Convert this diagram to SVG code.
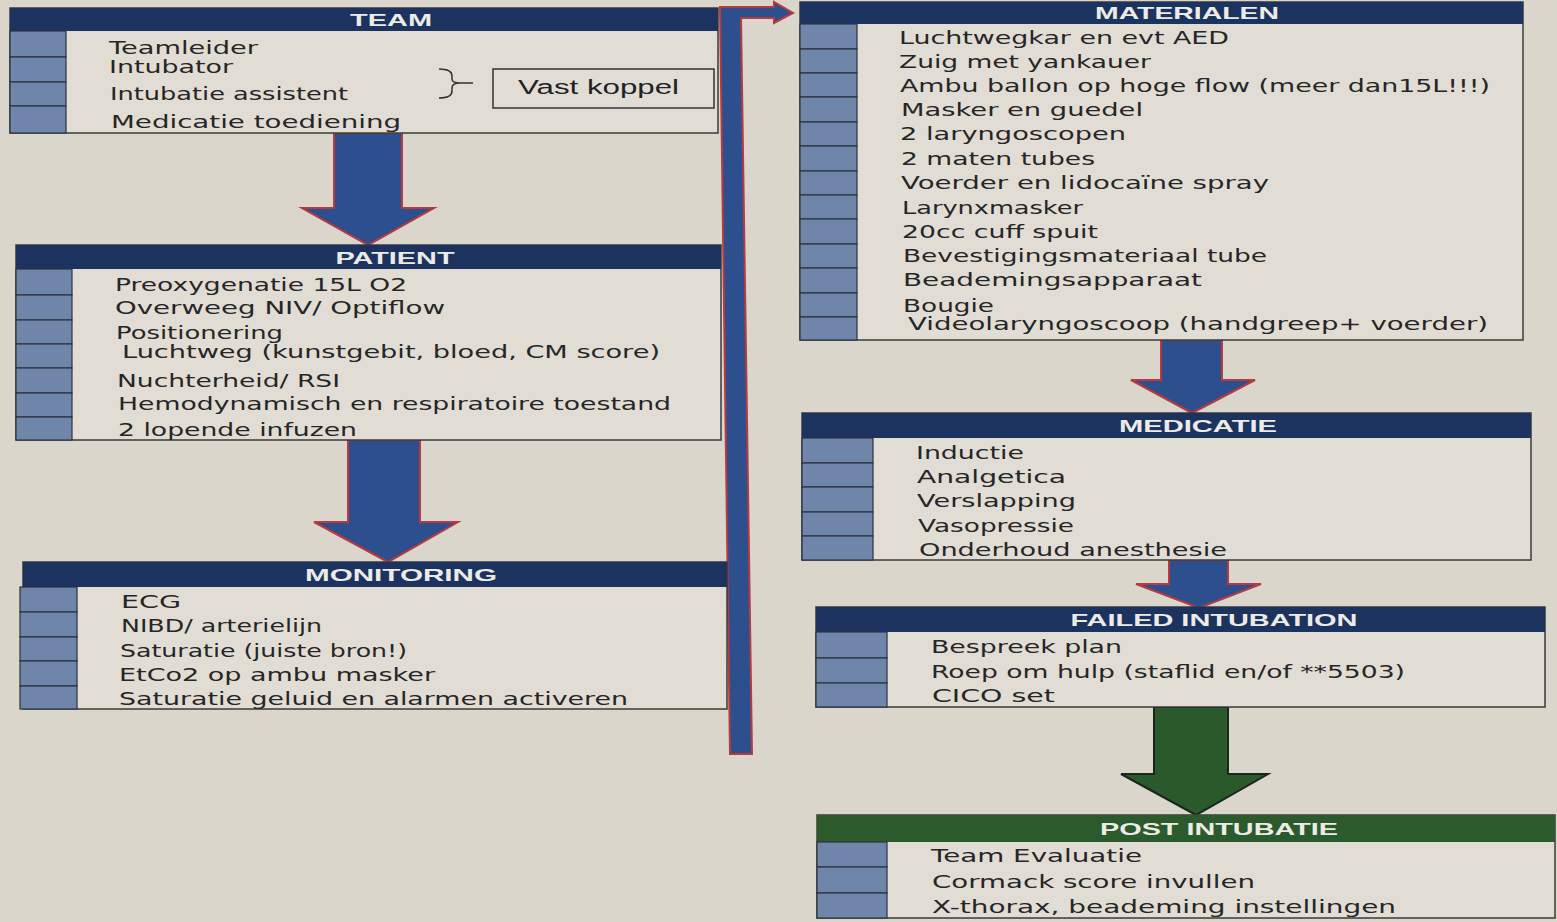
<svg xmlns="http://www.w3.org/2000/svg" width="1557" height="922" viewBox="0 0 1557 922">
<style>
.bg{fill:#dad6cb}
.hdr{fill:#1c335f}
.hdrg{fill:#2b5a2d}
.body{fill:#e1ddd4;stroke:#3a3a3a;stroke-width:1.5}
.cell{fill:#6f85a9;stroke:#2c3340;stroke-width:1.2}
.t{font-family:"DejaVu Sans",sans-serif;font-size:18px;fill:#262626}
.h{font-family:"Liberation Sans",sans-serif;font-weight:bold;font-size:17px;fill:#ecebe6;text-anchor:middle}
.arr{fill:#2d4f8e;stroke:#b63a3f;stroke-width:2;stroke-linejoin:miter}
.arrg{fill:#2a5a2b;stroke:#1c261c;stroke-width:2}
.thin{fill:none;stroke:#333;stroke-width:1.5}
.vk{font-family:"Liberation Sans",sans-serif;font-size:20px;fill:#222}
</style>
<rect class="bg" x="0" y="0" width="1557" height="922"/>

<g id="connectors">
  <polygon class="arr" points="334,133 402,133 402,208 434,208 368,245 302,208 334,208"/>
  <polygon class="arr" points="348,440 420,440 420,522 458,522 388,562 314,522 348,522"/>
  <polygon class="arr" points="1161,340 1222,340 1222,380 1255,380 1192,413 1131,380 1161,380"/>
  <polygon class="arr" points="1169,560 1228,560 1228,584 1261,584 1199,608 1136,584 1169,584"/>
  <polygon class="arrg" points="1154,707 1228,707 1228,774 1268,774 1196,815 1121,774 1154,774"/>
  <polygon class="arr" points="730,754 720,7 774,7 774,2 793,13 774,23 774,18 741,18 752,754"/>
</g>

<g id="node-team">
  <rect class="body" x="10" y="8" width="708" height="125"/>
  <rect class="hdr" x="10" y="8" width="708" height="23"/>
  <rect class="cell" x="10" y="31" width="56" height="26"/>
  <rect class="cell" x="10" y="57" width="56" height="25"/>
  <rect class="cell" x="10" y="82" width="56" height="24"/>
  <rect class="cell" x="10" y="106" width="56" height="27"/>
  <text class="h" x="391" y="26" textLength="82" lengthAdjust="spacingAndGlyphs">TEAM</text>
  <text class="t" x="109" y="54" textLength="149" lengthAdjust="spacingAndGlyphs">Teamleider</text>
  <text class="t" x="109" y="73" textLength="124" lengthAdjust="spacingAndGlyphs">Intubator</text>
  <text class="t" x="110" y="100" textLength="238" lengthAdjust="spacingAndGlyphs">Intubatie assistent</text>
  <text class="t" x="111" y="128" textLength="290" lengthAdjust="spacingAndGlyphs">Medicatie toediening</text>
  <path class="thin" d="M439,69 Q452,69 452,76 L452,79 Q452,83 460,83 L473,83 M460,83 Q452,83 452,88 L452,91 Q452,98 439,98"/>
  <rect class="thin" x="493" y="69" width="221" height="39"/>
  <text class="vk" x="518" y="94" textLength="161" lengthAdjust="spacingAndGlyphs">Vast koppel</text>
</g>

<g id="node-patient">
  <rect class="body" x="16" y="245" width="705" height="195"/>
  <rect class="hdr" x="16" y="245" width="705" height="24"/>
  <rect class="cell" x="16" y="269" width="56" height="26"/>
  <rect class="cell" x="16" y="295" width="56" height="25"/>
  <rect class="cell" x="16" y="320" width="56" height="24"/>
  <rect class="cell" x="16" y="344" width="56" height="24"/>
  <rect class="cell" x="16" y="368" width="56" height="25"/>
  <rect class="cell" x="16" y="393" width="56" height="24"/>
  <rect class="cell" x="16" y="417" width="56" height="23"/>
  <text class="h" x="395" y="264" textLength="119" lengthAdjust="spacingAndGlyphs">PATIENT</text>
  <text class="t" x="115" y="291" textLength="292" lengthAdjust="spacingAndGlyphs">Preoxygenatie 15L O2</text>
  <text class="t" x="115" y="314" textLength="330" lengthAdjust="spacingAndGlyphs">Overweeg NIV/ Optiflow</text>
  <text class="t" x="116" y="339" textLength="167" lengthAdjust="spacingAndGlyphs">Positionering</text>
  <text class="t" x="122" y="358" textLength="538" lengthAdjust="spacingAndGlyphs">Luchtweg (kunstgebit, bloed, CM score)</text>
  <text class="t" x="117" y="387" textLength="223" lengthAdjust="spacingAndGlyphs">Nuchterheid/ RSI</text>
  <text class="t" x="118" y="410" textLength="553" lengthAdjust="spacingAndGlyphs">Hemodynamisch en respiratoire toestand</text>
  <text class="t" x="118" y="436" textLength="239" lengthAdjust="spacingAndGlyphs">2 lopende infuzen</text>
</g>

<g id="node-monitoring">
  <rect class="body" x="23" y="562" width="704" height="147"/>
  <rect class="hdr" x="23" y="562" width="704" height="25"/>
  <rect class="cell" x="20" y="587" width="57" height="25"/>
  <rect class="cell" x="20" y="612" width="57" height="25"/>
  <rect class="cell" x="20" y="637" width="57" height="24"/>
  <rect class="cell" x="20" y="661" width="57" height="25"/>
  <rect class="cell" x="20" y="686" width="57" height="23"/>
  <text class="h" x="401" y="581" textLength="192" lengthAdjust="spacingAndGlyphs">MONITORING</text>
  <text class="t" x="121" y="608" textLength="60" lengthAdjust="spacingAndGlyphs">ECG</text>
  <text class="t" x="121" y="632" textLength="201" lengthAdjust="spacingAndGlyphs">NIBD/ arterielijn</text>
  <text class="t" x="120" y="657" textLength="287" lengthAdjust="spacingAndGlyphs">Saturatie (juiste bron!)</text>
  <text class="t" x="119" y="681" textLength="316" lengthAdjust="spacingAndGlyphs">EtCo2 op ambu masker</text>
  <text class="t" x="119" y="705" textLength="509" lengthAdjust="spacingAndGlyphs">Saturatie geluid en alarmen activeren</text>
</g>

<g id="node-materialen">
  <rect class="body" x="800" y="2" width="723" height="338"/>
  <rect class="hdr" x="800" y="2" width="723" height="22"/>
  <rect class="cell" x="800" y="24" width="57" height="25"/>
  <rect class="cell" x="800" y="49" width="57" height="24"/>
  <rect class="cell" x="800" y="73" width="57" height="24"/>
  <rect class="cell" x="800" y="97" width="57" height="25"/>
  <rect class="cell" x="800" y="122" width="57" height="24"/>
  <rect class="cell" x="800" y="146" width="57" height="25"/>
  <rect class="cell" x="800" y="171" width="57" height="24"/>
  <rect class="cell" x="800" y="195" width="57" height="24"/>
  <rect class="cell" x="800" y="219" width="57" height="25"/>
  <rect class="cell" x="800" y="244" width="57" height="24"/>
  <rect class="cell" x="800" y="268" width="57" height="25"/>
  <rect class="cell" x="800" y="293" width="57" height="24"/>
  <rect class="cell" x="800" y="317" width="57" height="23"/>
  <text class="h" x="1187" y="19" textLength="184" lengthAdjust="spacingAndGlyphs">MATERIALEN</text>
  <text class="t" x="899" y="44" textLength="330" lengthAdjust="spacingAndGlyphs">Luchtwegkar en evt AED</text>
  <text class="t" x="899" y="68" textLength="252" lengthAdjust="spacingAndGlyphs">Zuig met yankauer</text>
  <text class="t" x="900" y="92" textLength="590" lengthAdjust="spacingAndGlyphs">Ambu ballon op hoge flow (meer dan15L!!!)</text>
  <text class="t" x="901" y="116" textLength="242" lengthAdjust="spacingAndGlyphs">Masker en guedel</text>
  <text class="t" x="900" y="140" textLength="226" lengthAdjust="spacingAndGlyphs">2 laryngoscopen</text>
  <text class="t" x="901" y="165" textLength="194" lengthAdjust="spacingAndGlyphs">2 maten tubes</text>
  <text class="t" x="901" y="189" textLength="368" lengthAdjust="spacingAndGlyphs">Voerder en lidocaïne spray</text>
  <text class="t" x="902" y="214" textLength="181" lengthAdjust="spacingAndGlyphs">Larynxmasker</text>
  <text class="t" x="902" y="238" textLength="196" lengthAdjust="spacingAndGlyphs">20cc cuff spuit</text>
  <text class="t" x="903" y="262" textLength="364" lengthAdjust="spacingAndGlyphs">Bevestigingsmateriaal tube</text>
  <text class="t" x="903" y="286" textLength="299" lengthAdjust="spacingAndGlyphs">Beademingsapparaat</text>
  <text class="t" x="903" y="312" textLength="91" lengthAdjust="spacingAndGlyphs">Bougie</text>
  <text class="t" x="908" y="330" textLength="580" lengthAdjust="spacingAndGlyphs">Videolaryngoscoop (handgreep+ voerder)</text>
</g>

<g id="node-medicatie">
  <rect class="body" x="802" y="413" width="729" height="147"/>
  <rect class="hdr" x="802" y="413" width="729" height="25"/>
  <rect class="cell" x="802" y="438" width="71" height="25"/>
  <rect class="cell" x="802" y="463" width="71" height="24"/>
  <rect class="cell" x="802" y="487" width="71" height="25"/>
  <rect class="cell" x="802" y="512" width="71" height="24"/>
  <rect class="cell" x="802" y="536" width="71" height="24"/>
  <text class="h" x="1198" y="432" textLength="158" lengthAdjust="spacingAndGlyphs">MEDICATIE</text>
  <text class="t" x="916" y="459" textLength="108" lengthAdjust="spacingAndGlyphs">Inductie</text>
  <text class="t" x="917" y="483" textLength="149" lengthAdjust="spacingAndGlyphs">Analgetica</text>
  <text class="t" x="917" y="507" textLength="159" lengthAdjust="spacingAndGlyphs">Verslapping</text>
  <text class="t" x="918" y="532" textLength="156" lengthAdjust="spacingAndGlyphs">Vasopressie</text>
  <text class="t" x="919" y="556" textLength="308" lengthAdjust="spacingAndGlyphs">Onderhoud anesthesie</text>
</g>

<g id="node-failed">
  <rect class="body" x="816" y="607" width="729" height="100"/>
  <rect class="hdr" x="816" y="607" width="729" height="25"/>
  <rect class="cell" x="816" y="632" width="71" height="26"/>
  <rect class="cell" x="816" y="658" width="71" height="25"/>
  <rect class="cell" x="816" y="683" width="71" height="24"/>
  <text class="h" x="1214" y="626" textLength="287" lengthAdjust="spacingAndGlyphs">FAILED INTUBATION</text>
  <text class="t" x="931" y="653" textLength="191" lengthAdjust="spacingAndGlyphs">Bespreek plan</text>
  <text class="t" x="931" y="678" textLength="474" lengthAdjust="spacingAndGlyphs">Roep om hulp (staflid en/of **5503)</text>
  <text class="t" x="932" y="702" textLength="123" lengthAdjust="spacingAndGlyphs">CICO set</text>
</g>

<g id="node-post">
  <rect class="body" x="817" y="815" width="738" height="103"/>
  <rect class="hdrg" x="817" y="815" width="738" height="27"/>
  <rect class="cell" x="817" y="842" width="70" height="25"/>
  <rect class="cell" x="817" y="867" width="70" height="26"/>
  <rect class="cell" x="817" y="893" width="70" height="25"/>
  <text class="h" x="1219" y="835" textLength="238" lengthAdjust="spacingAndGlyphs">POST INTUBATIE</text>
  <text class="t" x="931" y="862" textLength="211" lengthAdjust="spacingAndGlyphs">Team Evaluatie</text>
  <text class="t" x="932" y="888" textLength="323" lengthAdjust="spacingAndGlyphs">Cormack score invullen</text>
  <text class="t" x="932" y="913" textLength="464" lengthAdjust="spacingAndGlyphs">X-thorax,  beademing instellingen</text>
</g>
</svg>
